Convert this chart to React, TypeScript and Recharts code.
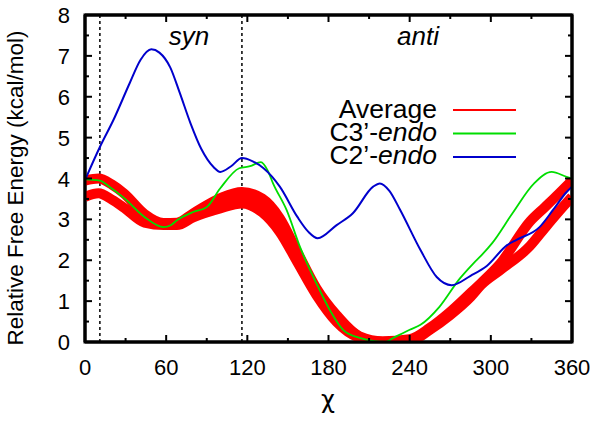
import React from 'react';
import { LineChart, Line, XAxis, YAxis, ReferenceLine, ReferenceArea, Legend } from 'recharts';

// ---- data (chi in degrees, energy in kcal/mol) ----
const chiRed = [0, 10, 20, 29, 44, 58, 68, 80, 100, 116, 131, 144, 157, 171, 186, 203, 220, 240, 255, 270, 285, 293, 307, 329, 340, 350, 360];
const avgUpper = [3.95, 4.0, 3.85, 3.63, 3.13, 2.91, 2.92, 3.15, 3.52, 3.67, 3.51, 3.03, 2.2, 1.32, 0.66, 0.14, 0.02, 0.07, 0.35, 0.74, 1.2, 1.45, 1.92, 2.95, 3.3, 3.62, 3.95];
const avgLower = [3.55, 3.64, 3.48, 3.28, 2.92, 2.86, 2.86, 3.05, 3.27, 3.39, 3.17, 2.69, 1.95, 1.15, 0.49, 0.1, 0.0, 0.02, 0.3, 0.66, 1.1, 1.4, 1.76, 2.35, 2.79, 3.18, 3.55];
const chiRedMid = [80, 100, 116, 131, 144, 157, 171, 186, 203];
const avgMid = [3.1, 3.4, 3.53, 3.34, 2.86, 2.08, 1.24, 0.58, 0.12];

const chiGreen = [0, 11, 18, 29, 44, 58, 63, 68, 80, 90, 100, 114, 122, 130, 135, 139, 149, 159, 171, 181, 191, 203, 214, 222, 228, 240, 248, 262, 277, 287, 293, 301, 316, 332, 345, 356, 360];
const c3Endo = [3.98, 3.95, 3.8, 3.52, 3.06, 2.81, 2.85, 2.98, 3.18, 3.3, 3.76, 4.25, 4.3, 4.4, 4.2, 3.88, 3.23, 2.32, 1.44, 0.78, 0.29, 0.1, 0.02, 0.0, 0.1, 0.3, 0.42, 0.86, 1.55, 1.92, 2.12, 2.42, 3.15, 3.88, 4.16, 4.04, 4.0];

const chiBlue = [0, 11, 21, 33, 41, 49, 55, 63, 70, 78, 86, 95, 100, 108, 116, 124, 132, 144, 157, 165, 172, 186, 198, 213, 218, 225, 233, 248, 260, 271, 285, 297, 312, 319, 336, 346, 356, 360];
const c2Endo = [3.96, 4.77, 5.43, 6.33, 6.9, 7.16, 7.08, 6.72, 6.1, 5.35, 4.72, 4.28, 4.16, 4.3, 4.5, 4.42, 4.25, 3.8, 3.06, 2.7, 2.54, 2.86, 3.15, 3.8, 3.88, 3.7, 3.23, 2.25, 1.59, 1.39, 1.62, 1.86, 2.37, 2.5, 2.81, 3.23, 3.67, 3.8];

const xTicks = [0, 30, 60, 90, 120, 150, 180, 210, 240, 270, 300, 330, 360];
const yTicks = [0, 0.5, 1, 1.5, 2, 2.5, 3, 3.5, 4, 4.5, 5, 5.5, 6, 6.5, 7, 7.5, 8];
const dividers = [11, 116];
const regionLabels = ['syn', 'anti'];
const legendNames = ['Average', 'C3\u2019-', 'C2\u2019-'];
const legendItalic = ['', 'endo', 'endo'];
const legendColors = ['#ff0000', '#00dd00', '#0000cc'];
const xLabel = '\u03c7';
const yLabel = 'Relative Free Energy (kcal/mol)';

const toSeries = (xs: number[], ys: number[]) => xs.map((chi, i) => ({ chi, e: ys[i] }));

const FONT = '"Liberation Sans", Arial, sans-serif';
const X_MARGIN = 10;
const Y_MARGIN = 15;

const BottomTick = (p: any) => {
  const { x, y, payload } = p;
  const major = payload.value % 60 === 0;
  const axisY = y - X_MARGIN;
  return (
    <g>
      <line x1={x} x2={x} y1={axisY} y2={axisY - (major ? 7 : 4)} stroke="#000" strokeWidth={2} />
      {major && (
        <text x={x} y={axisY + 33} textAnchor="middle" fontSize={22} fontFamily={FONT} fill="#000">
          {payload.value}
        </text>
      )}
    </g>
  );
};

const TopTick = (p: any) => {
  const { x, y, payload } = p;
  const major = payload.value % 60 === 0;
  return <line x1={x} x2={x} y1={y} y2={y + (major ? 7 : 4)} stroke="#000" strokeWidth={2} />;
};

const LeftTick = (p: any) => {
  const { x, y, payload } = p;
  const major = Number.isInteger(payload.value);
  const axisX = x + Y_MARGIN;
  return (
    <g>
      <line x1={axisX} x2={axisX + (major ? 7 : 4)} y1={y} y2={y} stroke="#000" strokeWidth={2} />
      {major && (
        <text x={x} y={y + 8} textAnchor="end" fontSize={22} fontFamily={FONT} fill="#000">
          {payload.value}
        </text>
      )}
    </g>
  );
};

const RightTick = (p: any) => {
  const { x, y, payload } = p;
  const major = Number.isInteger(payload.value);
  return <line x1={x} x2={x - (major ? 7 : 4)} y1={y} y2={y} stroke="#000" strokeWidth={2} />;
};

const Overlay = () => (
  <svg width={600} height={423} style={{ display: 'block' }} fontFamily={FONT}>
    <text x={189} y={45} textAnchor="middle" fontSize={26} fontStyle="italic" fill="#000">{regionLabels[0]}</text>
    <text x={418} y={45} textAnchor="middle" fontSize={26} fontStyle="italic" fill="#000">{regionLabels[1]}</text>
    {legendNames.map((n, i) => (
      <g key={n}>
        <text x={437} y={118 + i * 23} textAnchor="end" fontSize={26.5} fill="#000">
          {n}
          {legendItalic[i] && <tspan fontStyle="italic">{legendItalic[i]}</tspan>}
        </text>
        <line x1={453} x2={516} y1={110 + i * 23.5} y2={110 + i * 23.5} stroke={legendColors[i]} strokeWidth={2} />
      </g>
    ))}
    <text x={328} y={408} textAnchor="middle" fontSize={24} fontFamily='"DejaVu Sans", sans-serif' fill="#000">{xLabel}</text>
    <text x={23} y={188} textAnchor="middle" fontSize={22.5} fill="#000" transform="rotate(-90 23 188)">{yLabel}</text>
  </svg>
);

export default function App() {
  const axisLine = { stroke: '#000', strokeWidth: 3 };
  return (
    <div style={{ position: 'absolute', left: 0, top: 0, width: 600, height: 423, background: '#fff' }}>
      <LineChart width={600} height={423} margin={{ top: 14, right: 27, bottom: 51, left: 25 }}>
        <XAxis xAxisId="b" dataKey="chi" type="number" domain={[0, 360]} ticks={xTicks} interval={0}
          height={30} tickSize={0} tickMargin={X_MARGIN} axisLine={axisLine} tickLine={false}
          tick={(p: any) => <BottomTick {...p} />} allowDataOverflow />
        <XAxis xAxisId="t" orientation="top" dataKey="chi" type="number" domain={[0, 360]} ticks={xTicks} interval={0}
          height={1} tickSize={0} tickMargin={0} axisLine={axisLine} tickLine={false}
          tick={(p: any) => <TopTick {...p} />} allowDataOverflow />
        <YAxis yAxisId="l" type="number" domain={[0, 8]} ticks={yTicks} interval={0}
          width={60} tickSize={0} tickMargin={Y_MARGIN} axisLine={axisLine} tickLine={false}
          tick={(p: any) => <LeftTick {...p} />} allowDataOverflow />
        <YAxis yAxisId="r" orientation="right" type="number" domain={[0, 8]} ticks={yTicks} interval={0}
          width={1} tickSize={0} tickMargin={0} axisLine={axisLine} tickLine={false}
          tick={(p: any) => <RightTick {...p} />} allowDataOverflow />
        <ReferenceArea xAxisId="b" yAxisId="l" x1={0} x2={360} y1={0} y2={8} fill="none" fillOpacity={0}
          stroke="#000" strokeWidth={3} ifOverflow="visible" />
        {dividers.map((d) => (
          <ReferenceLine key={d} xAxisId="b" yAxisId="l" x={d} stroke="#000" strokeWidth={1.5} strokeDasharray="3 3" />
        ))}
        <Line xAxisId="b" yAxisId="l" data={toSeries(chiRed, avgUpper)} dataKey="e" name="Average" type="monotone"
          stroke="#ff0000" strokeWidth={10} dot={false} activeDot={false} isAnimationActive={false} />
        <Line xAxisId="b" yAxisId="l" data={toSeries(chiRed, avgLower)} dataKey="e" name="Average (b)" type="monotone"
          stroke="#ff0000" strokeWidth={10} dot={false} activeDot={false} isAnimationActive={false} legendType="none" />
        <Line xAxisId="b" yAxisId="l" data={toSeries(chiRedMid, avgMid)} dataKey="e" name="Average (c)" type="monotone"
          stroke="#ff0000" strokeWidth={10} dot={false} activeDot={false} isAnimationActive={false} legendType="none" />
        <Line xAxisId="t" yAxisId="r" data={toSeries(chiGreen, c3Endo)} dataKey="e" name="C3'-endo" type="monotone"
          stroke="#00dd00" strokeWidth={1.8} dot={false} activeDot={false} isAnimationActive={false} />
        <Line xAxisId="t" yAxisId="r" data={toSeries(chiBlue, c2Endo)} dataKey="e" name="C2'-endo" type="monotone"
          stroke="#0000cc" strokeWidth={2} dot={false} activeDot={false} isAnimationActive={false} />
        <Legend layout="vertical" align="center" verticalAlign="middle"
          wrapperStyle={{ position: 'absolute', left: 0, top: 0, width: 600, height: 423, pointerEvents: 'none' }}
          content={() => <Overlay />} />
      </LineChart>
    </div>
  );
}
